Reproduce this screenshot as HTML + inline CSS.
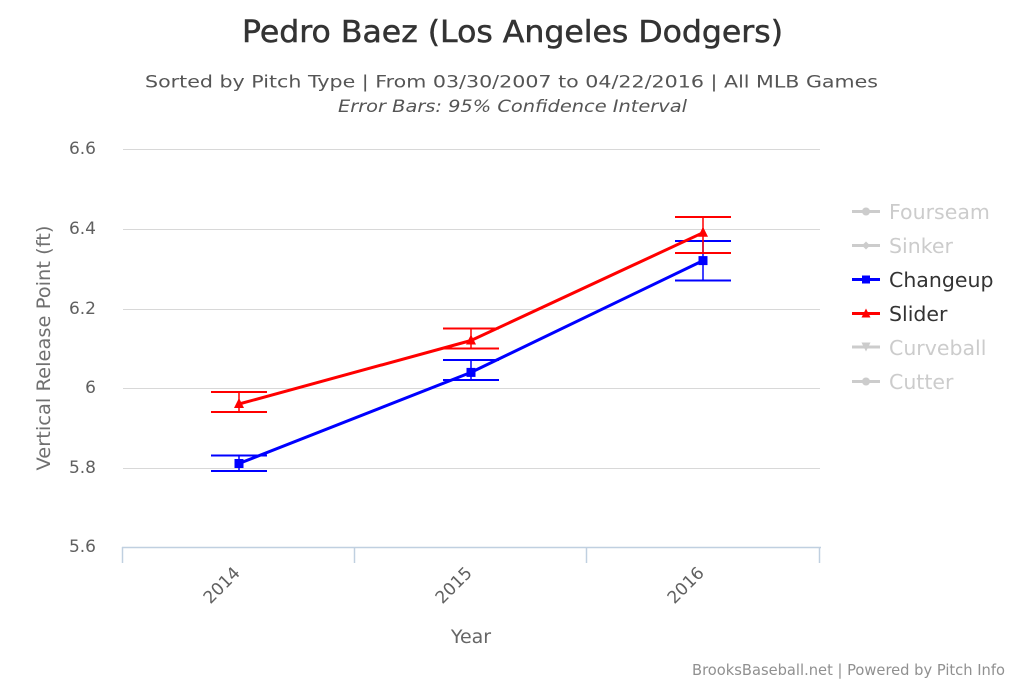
<!DOCTYPE html>
<html><head><meta charset="utf-8"><style>
html,body{margin:0;padding:0;background:#fff;}
svg{display:block;}
text{font-family:"DejaVu Sans","Liberation Sans",sans-serif;}
</style></head><body>
<svg width="1024" height="683" viewBox="0 0 1024 683" xmlns="http://www.w3.org/2000/svg">
<rect width="1024" height="683" fill="#fff"/>
<!-- titles -->
<text x="242" y="42" font-size="30" fill="#333" stroke="#333" stroke-width="0.5" textLength="541" lengthAdjust="spacingAndGlyphs">Pedro Baez (Los Angeles Dodgers)</text>
<text x="145" y="87.5" font-size="17" fill="#555" textLength="733" lengthAdjust="spacingAndGlyphs">Sorted by Pitch Type | From 03/30/2007 to 04/22/2016 | All MLB Games</text>
<text x="338" y="112" font-size="17" font-style="italic" fill="#555" textLength="349" lengthAdjust="spacingAndGlyphs">Error Bars: 95% Confidence Interval</text>
<!-- grid -->
<g stroke="#d8d8d8" stroke-width="1">
<line x1="123" y1="149.5" x2="820" y2="149.5"/>
<line x1="123" y1="229.5" x2="820" y2="229.5"/>
<line x1="123" y1="309.5" x2="820" y2="309.5"/>
<line x1="123" y1="388.5" x2="820" y2="388.5"/>
<line x1="123" y1="468.5" x2="820" y2="468.5"/>
</g>
<g stroke="#c0d0e0" stroke-width="1.5">
<line x1="122" y1="547.5" x2="821" y2="547.5"/>
<line x1="122.5" y1="547" x2="122.5" y2="563"/>
<line x1="354.5" y1="547" x2="354.5" y2="563"/>
<line x1="586.5" y1="547" x2="586.5" y2="563"/>
<line x1="819.5" y1="547" x2="819.5" y2="563"/>
</g>
<!-- y labels -->
<g font-size="17" fill="#606060" text-anchor="end">
<text x="96" y="154">6.6</text>
<text x="96" y="234">6.4</text>
<text x="96" y="314">6.2</text>
<text x="96" y="393">6</text>
<text x="96" y="473">5.8</text>
<text x="96" y="552">5.6</text>
</g>
<text transform="translate(50,348) rotate(-90)" text-anchor="middle" font-size="19" fill="#707070" textLength="245" lengthAdjust="spacingAndGlyphs">Vertical Release Point (ft)</text>
<!-- x labels -->
<g font-size="17" fill="#606060" text-anchor="end">
<text transform="translate(241,574) rotate(-45)">2014</text>
<text transform="translate(473,574) rotate(-45)">2015</text>
<text transform="translate(705,574) rotate(-45)">2016</text>
</g>
<text x="471" y="643" text-anchor="middle" font-size="19" fill="#666">Year</text>
<!-- Changeup -->
<polyline points="239,463.5 471,372.4 703,260.6" fill="none" stroke="#0000ff" stroke-width="3" stroke-linejoin="round"/>
<g fill="#0000ff">
<rect x="234.5" y="459" width="9" height="9"/>
<rect x="466.5" y="367.9" width="9" height="9"/>
<rect x="698.5" y="256.1" width="9" height="9"/>
</g>
<g stroke="#0000ff" stroke-width="2">
<line x1="211" y1="455.5" x2="267" y2="455.5"/>
<line x1="211" y1="471" x2="267" y2="471"/>
<line x1="239" y1="455.5" x2="239" y2="471" stroke-width="1.5"/>
<line x1="443" y1="360" x2="499" y2="360"/>
<line x1="443" y1="380" x2="499" y2="380"/>
<line x1="471" y1="360" x2="471" y2="380" stroke-width="1.5"/>
<line x1="675" y1="241" x2="731" y2="241"/>
<line x1="675" y1="280.5" x2="731" y2="280.5"/>
<line x1="703" y1="241" x2="703" y2="280.5" stroke-width="1.5"/>
</g>
<!-- Slider -->
<polyline points="239,404 471,340.5 703,232.7" fill="none" stroke="#ff0000" stroke-width="3" stroke-linejoin="round"/>
<g fill="#ff0000">
<polygon points="239,398 244,408 234,408"/>
<polygon points="471,334.5 476,344.5 466,344.5"/>
<polygon points="703,226.7 708,236.7 698,236.7"/>
</g>
<g stroke="#ff0000" stroke-width="2">
<line x1="211" y1="392" x2="267" y2="392"/>
<line x1="211" y1="412" x2="267" y2="412"/>
<line x1="239" y1="392" x2="239" y2="412" stroke-width="1.5"/>
<line x1="443" y1="328.5" x2="499" y2="328.5"/>
<line x1="443" y1="348.5" x2="499" y2="348.5"/>
<line x1="471" y1="328.5" x2="471" y2="348.5" stroke-width="1.5"/>
<line x1="675" y1="217" x2="731" y2="217"/>
<line x1="675" y1="253" x2="731" y2="253"/>
<line x1="703" y1="217" x2="703" y2="253" stroke-width="1.5"/>
</g>
<!-- legend -->
<g stroke-width="3">
<line x1="852" y1="211.5" x2="880" y2="211.5" stroke="#ccc"/>
<line x1="852" y1="245.5" x2="880" y2="245.5" stroke="#ccc"/>
<line x1="852" y1="279.5" x2="880" y2="279.5" stroke="#0000ff"/>
<line x1="852" y1="313.5" x2="880" y2="313.5" stroke="#ff0000"/>
<line x1="852" y1="347" x2="880" y2="347" stroke="#ccc"/>
<line x1="852" y1="381.5" x2="880" y2="381.5" stroke="#ccc"/>
</g>
<circle cx="866" cy="211.5" r="4" fill="#ccc"/>
<polygon points="866,241.5 870,245.5 866,249.5 862,245.5" fill="#ccc"/>
<rect x="862" y="275.5" width="8" height="8" fill="#0000ff"/>
<polygon points="866,308.5 870.5,317.5 861.5,317.5" fill="#ff0000"/>
<polygon points="866,351.5 870.5,342.5 861.5,342.5" fill="#ccc"/>
<circle cx="866" cy="381.5" r="4" fill="#ccc"/>
<g font-size="20.5">
<text x="889" y="219" fill="#ccc">Fourseam</text>
<text x="889" y="253" fill="#ccc">Sinker</text>
<text x="889" y="287" fill="#333">Changeup</text>
<text x="889" y="321" fill="#333">Slider</text>
<text x="889" y="355" fill="#ccc">Curveball</text>
<text x="889" y="389" fill="#ccc">Cutter</text>
</g>
<!-- footer -->
<text x="692" y="675" font-size="15" fill="#909090" textLength="313" lengthAdjust="spacingAndGlyphs">BrooksBaseball.net | Powered by Pitch Info</text>
</svg>
</body></html>
